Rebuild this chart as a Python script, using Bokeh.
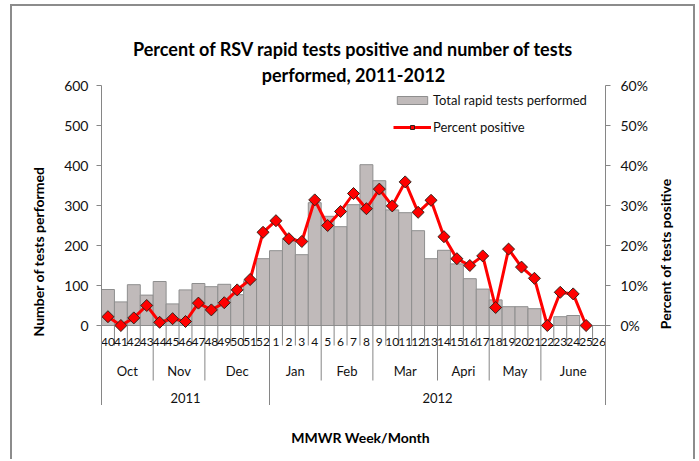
import numpy as np
from bokeh.plotting import figure
from bokeh.layouts import column, row
from bokeh.models import (FactorRange, Range1d, LinearAxis, FixedTicker, PrintfTickFormatter,
                          Span, Title, Legend, LegendItem)
from bokeh.embed import file_html
from bokeh.resources import INLINE
from bokeh.core.properties import value

# ---------------- data ----------------
weeks = ["40", "41", "42", "43", "44", "45", "46", "47", "48", "49", "50", "51", "52",
         "1", "2", "3", "4", "5", "6", "7", "8", "9", "10", "11", "12", "13",
         "14", "15", "16", "17", "18", "19", "20", "21", "22", "23", "24", "25", "26"]
months = ["Oct", "Nov", "Dec", "Jan", "Feb", "Mar", "Apri", "May", "June"]
month_weeks = [4, 4, 5, 4, 4, 5, 4, 4, 5]
years = ["2011", "2012"]
year_weeks = [13, 26]

tests = [90, 59, 102, 76, 110, 54, 89, 105, 97, 103, 77, 112, 167,
         187, 217, 177, 307, 273, 247, 302, 402, 362, 289, 282, 237, 167,
         188, 154, 117, 91, 64, 47, 47, 42, 0, 22, 25, 0, np.nan]
pct_positive = [2.2, 0.0, 1.9, 5.0, 0.8, 1.7, 1.0, 5.6, 3.9, 5.7, 8.9, 11.5, 23.3,
                26.2, 21.7, 21.0, 31.4, 25.0, 28.5, 33.0, 29.2, 34.1, 29.9, 35.9, 28.3, 31.3,
                22.2, 16.7, 15.0, 17.4, 4.5, 19.1, 14.6, 11.8, 0.0, 8.3, 7.9, 0.0, np.nan]

count_ticks = [0, 100, 200, 300, 400, 500, 600]
pct_ticks = [0, 10, 20, 30, 40, 50, 60]

# ---------------- layout (page px) ----------------
FONT = "Lato"
GREY = "#868686"
TXT = "#111111"
OX, OY = 10, 4                  # outer chart box origin
BOX_R = 695
L_STRIP, R_STRIP = 50, 652      # main figure spans L_STRIP..R_STRIP
FRAME_L, FRAME_R = 101, 605
FRAME_T, ZERO_Y, AXIS_B = 85, 325, 405
PAGE_B = 461

units_per_px = 600.0 / (ZERO_Y - FRAME_T)
y_bottom = -(AXIS_B - ZERO_Y) * units_per_px       # category area below zero


def ys(py):
    """page y pixel -> value on the count axis"""
    return 600 - (py - FRAME_T) * units_per_px


def clear_bg(f):
    f.grid.visible = False
    f.outline_line_color = None
    f.background_fill_alpha = 0
    f.border_fill_alpha = 0


xr = FactorRange(*weeks)
MAIN_H = AXIS_B - OY

# ---------------- main chart ----------------
p = figure(width=R_STRIP - L_STRIP, height=MAIN_H, x_range=xr, y_range=Range1d(y_bottom, 600),
           output_backend="svg", toolbar_location=None, x_axis_location=None, title=None,
           min_border_left=FRAME_L - L_STRIP, min_border_right=R_STRIP - FRAME_R,
           min_border_top=FRAME_T - OY, min_border_bottom=0)
p.extra_y_ranges = {"pct": Range1d(y_bottom / 10.0, 60)}
clear_bg(p)

right = LinearAxis(y_range_name="pct")
p.add_layout(right, "right")
left = p.left[0]
left.ticker = FixedTicker(ticks=count_ticks)
right.ticker = FixedTicker(ticks=pct_ticks)
right.formatter = PrintfTickFormatter(format="%d%%")
for ax, so in ((left, 8), (right, 10)):
    ax.axis_line_color = GREY
    ax.major_tick_line_color = GREY
    ax.major_tick_out = 5
    ax.major_tick_in = 0
    ax.minor_tick_line_color = None
    ax.major_label_standoff = so
    ax.major_label_text_font = FONT
    ax.major_label_text_font_size = "14px"
    ax.major_label_text_color = TXT

p.add_layout(Span(location=0, dimension="width", line_color=GREY, line_width=1, level="underlay"))

bars = p.vbar(x=weeks, top=tests, bottom=0, width=1, fill_color="#C0BABA",
              line_color="#8E8E8E", line_width=1)
line_r = p.line(x=weeks, y=pct_positive, y_range_name="pct", line_color="#FF0000", line_width=3)
mark_r = p.scatter(x=weeks, y=pct_positive, y_range_name="pct", marker="square",
                   angle=np.pi / 4, size=8.5, fill_color="#FF0000", line_color="#33231A",
                   line_width=1)

# category separators
m_starts = list(np.cumsum([0] + month_weeks[:-1]))
y_starts = list(np.cumsum([0] + year_weeks[:-1]))
bounds = [(w, -0.5) for w in weeks[1:]]
sep_y1 = []
for i in range(1, len(weeks)):
    if i in y_starts:
        sep_y1.append(y_bottom)
    elif i in m_starts:
        sep_y1.append(ys(380))
    else:
        sep_y1.append(ys(345))
p.segment(x0=bounds, y0=[0] * len(bounds), x1=bounds, y1=sep_y1, line_color=GREY, line_width=1)

# category labels
p.text(x=weeks, y=[ys(341)] * len(weeks), text=weeks, text_font=value(FONT),
       text_font_size="12px", text_align="center", text_baseline="middle", text_color=TXT)
month_x = [(weeks[s], (n - 1) / 2) for s, n in zip(m_starts, month_weeks)]
p.text(x=month_x, y=[ys(370)] * len(months), text=months, text_font=value(FONT),
       text_font_size="13px", text_align="center", text_baseline="middle", text_color=TXT)
year_x = [(weeks[s], (n - 1) / 2) for s, n in zip(y_starts, year_weeks)]
p.text(x=year_x, y=[ys(397)] * len(years), text=years, text_font=value(FONT),
       text_font_size="13px", text_align="center", text_baseline="middle", text_color=TXT)

# chart title (two lines)
t2 = Title(text="performed, 2011-2012", align="center", text_font=FONT,
           text_font_size="18px", text_font_style="bold", text_color="#000000", standoff=0)
t1 = Title(text="Percent of RSV rapid tests positive and number of tests", align="center",
           text_font=FONT, text_font_size="18px", text_font_style="bold",
           text_color="#000000", standoff=4)
p.add_layout(t2, "above")
p.add_layout(t1, "above")

legend = Legend(items=[LegendItem(label="Total rapid tests performed", renderers=[bars]),
                       LegendItem(label="Percent positive", renderers=[line_r, mark_r])],
                location=(292, AXIS_B - 137), padding=0, spacing=7, glyph_width=38,
                glyph_height=10, label_height=20, label_standoff=2, label_text_font=FONT,
                label_text_font_size="13px", label_text_color=TXT,
                background_fill_alpha=0, border_line_color=None)
p.add_layout(legend)


# ---------------- text strips for the axis titles ----------------
def strip(x0, x1, y0, y1):
    f = figure(width=x1 - x0, height=y1 - y0, x_range=Range1d(x0, x1), y_range=Range1d(y1, y0),
               output_backend="svg", toolbar_location=None, title=None,
               x_axis_location=None, y_axis_location=None,
               min_border_left=0, min_border_right=0, min_border_top=0, min_border_bottom=0)
    clear_bg(f)
    return f


def title_text(f, text, x, y, angle=0.0):
    f.text(x=[x], y=[y], text=[text], angle=angle, text_font=value(FONT),
           text_font_size="14px", text_font_style="bold", text_align="center",
           text_baseline="middle", text_color="#000000")


lft = strip(OX, L_STRIP, OY, AXIS_B)
title_text(lft, "Number of tests performed", 38, 212, np.pi / 2)
rgt = strip(R_STRIP, BOX_R, OY, AXIS_B)
title_text(rgt, "Percent of tests positive", 665, 215, np.pi / 2)
bot = strip(OX, BOX_R, AXIS_B, PAGE_B)
title_text(bot, "MMWR Week/Month", 360, 437)

layout = column(row(lft, p, rgt, spacing=0), bot, spacing=0)
layout.styles = {"margin-left": f"{OX}px", "margin-top": f"{OY}px",
                 "outline": "2px solid #8C8C8C", "outline-offset": "-2px",
                 "clip-path": "inset(0px 0px 2px 0px)"}

open("out.html", "w").write(file_html(layout, INLINE))
